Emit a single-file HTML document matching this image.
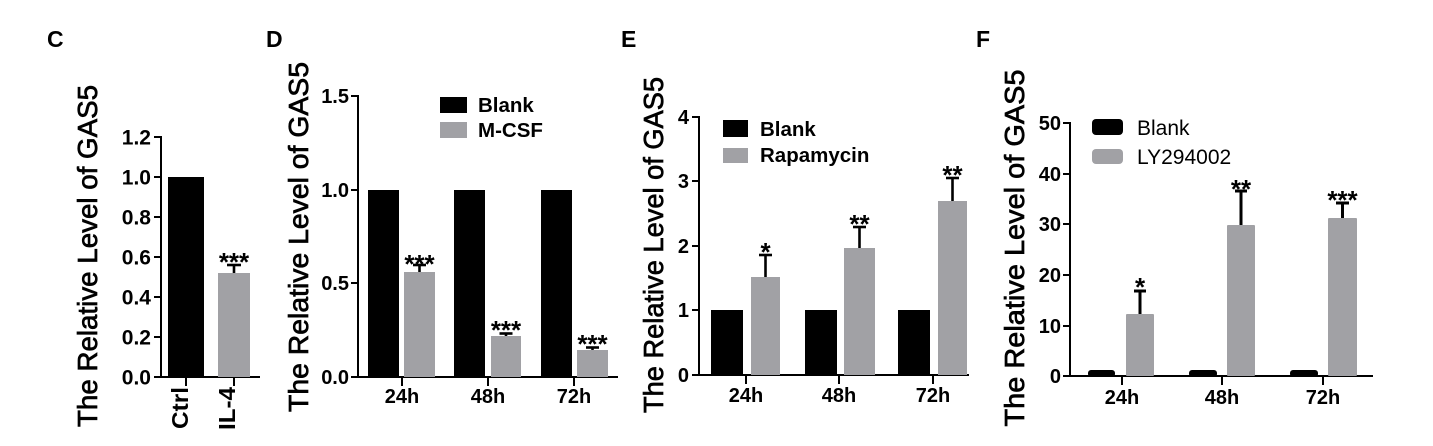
<!DOCTYPE html>
<html><head><meta charset="utf-8"><style>
html,body{margin:0;padding:0;background:#fff;}
svg{display:block;}
text{font-family:"Liberation Sans",Arial,sans-serif;fill:#000;}
.pl{font-size:23px;font-weight:bold;}
.ti{font-size:28px;stroke:#000;stroke-width:0.7px;}
.tk{font-size:20px;font-weight:bold;}
.tkc{font-size:21px;font-weight:bold;}
.xl{font-size:20px;font-weight:bold;}
.st{font-size:26px;font-weight:bold;}
.lg{font-size:20.5px;font-weight:bold;}
.lgr{font-size:21px;}
.ax{stroke:#000;stroke-width:2;fill:none;}
.eb{stroke:#000;stroke-width:2.6;fill:none;}
</style></head><body>
<svg width="1433" height="446" viewBox="0 0 1433 446" xmlns="http://www.w3.org/2000/svg">
<rect width="1433" height="446" fill="#fff"/>

<!-- Panel C -->
<text class="pl" x="47" y="47">C</text>
<text class="ti" transform="translate(97,256) rotate(-90)" text-anchor="middle" textLength="342" lengthAdjust="spacingAndGlyphs">The Relative Level of GAS5</text>
<g class="ax">
<line x1="161" y1="136" x2="161" y2="378"/>
<line x1="160" y1="377" x2="260" y2="377"/>
<line x1="154" y1="137" x2="161" y2="137"/>
<line x1="154" y1="177" x2="161" y2="177"/>
<line x1="154" y1="217" x2="161" y2="217"/>
<line x1="154" y1="257" x2="161" y2="257"/>
<line x1="154" y1="297" x2="161" y2="297"/>
<line x1="154" y1="337" x2="161" y2="337"/>
<line x1="154" y1="377" x2="161" y2="377"/>
<line x1="186" y1="377" x2="186" y2="386"/>
<line x1="234" y1="377" x2="234" y2="386"/>
</g>
<g class="tkc" text-anchor="end">
<text x="151" y="144.5">1.2</text>
<text x="151" y="184.5">1.0</text>
<text x="151" y="224.5">0.8</text>
<text x="151" y="264.5">0.6</text>
<text x="151" y="304.5">0.4</text>
<text x="151" y="344.5">0.2</text>
<text x="151" y="384.5">0.0</text>
</g>
<rect x="168" y="177" width="36" height="200" fill="#000"/>
<rect x="218" y="273" width="32" height="104" fill="#a1a1a5"/>
<g class="eb"><line x1="234" y1="273" x2="234" y2="265"/><line x1="227" y1="265" x2="241" y2="265"/></g>
<text class="st" x="234" y="271" text-anchor="middle">***</text>
<text class="xl" transform="translate(188,387) rotate(-90)" text-anchor="end" textLength="42" lengthAdjust="spacingAndGlyphs" style="font-size:23px">Ctrl</text>
<text class="xl" transform="translate(235,387) rotate(-90)" text-anchor="end" textLength="43" lengthAdjust="spacingAndGlyphs" style="font-size:23px">IL-4</text>

<!-- Panel D -->
<text class="pl" x="266" y="47">D</text>
<text class="ti" transform="translate(308,237) rotate(-90)" text-anchor="middle" textLength="350" lengthAdjust="spacingAndGlyphs">The Relative Level of GAS5</text>
<g class="ax">
<line x1="358" y1="95" x2="358" y2="378"/>
<line x1="357" y1="377" x2="618" y2="377"/>
<line x1="351" y1="96" x2="358" y2="96"/>
<line x1="351" y1="190" x2="358" y2="190"/>
<line x1="351" y1="283" x2="358" y2="283"/>
<line x1="351" y1="377" x2="358" y2="377"/>
<line x1="402" y1="377" x2="402" y2="386"/>
<line x1="488" y1="377" x2="488" y2="386"/>
<line x1="574" y1="377" x2="574" y2="386"/>
</g>
<g class="tk" text-anchor="end">
<text x="349" y="103">1.5</text>
<text x="349" y="197">1.0</text>
<text x="349" y="290">0.5</text>
<text x="349" y="384">0.0</text>
</g>
<rect x="368" y="190" width="31" height="187" fill="#000"/>
<rect x="454" y="190" width="31" height="187" fill="#000"/>
<rect x="541" y="190" width="31" height="187" fill="#000"/>
<rect x="404" y="272" width="31" height="105" fill="#a1a1a5"/>
<rect x="491" y="336" width="30" height="41" fill="#a1a1a5"/>
<rect x="577" y="350" width="31" height="27" fill="#a1a1a5"/>
<g class="eb">
<line x1="419.5" y1="272" x2="419.5" y2="265"/><line x1="413" y1="265" x2="426" y2="265"/>
<line x1="506" y1="336" x2="506" y2="333.5"/><line x1="499.5" y1="333.5" x2="512.5" y2="333.5"/>
<line x1="592.5" y1="350" x2="592.5" y2="347.5"/><line x1="586" y1="347.5" x2="599" y2="347.5"/>
</g>
<g class="st" text-anchor="middle">
<text x="419.5" y="273">***</text>
<text x="506" y="339">***</text>
<text x="592.5" y="353">***</text>
</g>
<g class="xl" text-anchor="middle">
<text x="402" y="403">24h</text>
<text x="488" y="403">48h</text>
<text x="574" y="403">72h</text>
</g>
<rect x="440" y="97" width="27" height="16" fill="#000"/>
<rect x="440" y="122" width="27" height="16" fill="#a1a1a5"/>
<text class="lg" x="478" y="112">Blank</text>
<text class="lg" x="478" y="137">M-CSF</text>

<!-- Panel E -->
<text class="pl" x="621" y="47">E</text>
<text class="ti" transform="translate(663,245) rotate(-90)" text-anchor="middle" textLength="336" lengthAdjust="spacingAndGlyphs">The Relative Level of GAS5</text>
<g class="ax">
<line x1="699" y1="116" x2="699" y2="376"/>
<line x1="698" y1="375" x2="969" y2="375"/>
<line x1="692" y1="117" x2="699" y2="117"/>
<line x1="692" y1="181" x2="699" y2="181"/>
<line x1="692" y1="246" x2="699" y2="246"/>
<line x1="692" y1="310" x2="699" y2="310"/>
<line x1="692" y1="375" x2="699" y2="375"/>
<line x1="746" y1="375" x2="746" y2="384"/>
<line x1="839" y1="375" x2="839" y2="384"/>
<line x1="933" y1="375" x2="933" y2="384"/>
</g>
<g class="tk" text-anchor="end">
<text x="689" y="124">4</text>
<text x="689" y="188">3</text>
<text x="689" y="253">2</text>
<text x="689" y="317">1</text>
<text x="689" y="382">0</text>
</g>
<rect x="711" y="310" width="32" height="65" fill="#000"/>
<rect x="805" y="310" width="32" height="65" fill="#000"/>
<rect x="898" y="310" width="32" height="65" fill="#000"/>
<rect x="751" y="277" width="29" height="98" fill="#a1a1a5"/>
<rect x="844" y="248" width="31" height="127" fill="#a1a1a5"/>
<rect x="938" y="201" width="29" height="174" fill="#a1a1a5"/>
<g class="eb">
<line x1="765.5" y1="277" x2="765.5" y2="255"/><line x1="759" y1="255" x2="772" y2="255"/>
<line x1="859.5" y1="248" x2="859.5" y2="227"/><line x1="853" y1="227" x2="866" y2="227"/>
<line x1="952.5" y1="201" x2="952.5" y2="178"/><line x1="946" y1="178" x2="959" y2="178"/>
</g>
<g class="st" text-anchor="middle">
<text x="765.5" y="261">*</text>
<text x="859.5" y="233">**</text>
<text x="952.5" y="184">**</text>
</g>
<g class="xl" text-anchor="middle">
<text x="746" y="402">24h</text>
<text x="839" y="402">48h</text>
<text x="933" y="402">72h</text>
</g>
<rect x="723" y="120" width="25" height="17" fill="#000"/>
<rect x="723" y="148" width="25" height="15" fill="#a1a1a5"/>
<text class="lg" x="760" y="136">Blank</text>
<text class="lg" x="760" y="162">Rapamycin</text>

<!-- Panel F -->
<text class="pl" x="976" y="47">F</text>
<text class="ti" transform="translate(1024,248) rotate(-90)" text-anchor="middle" textLength="357" lengthAdjust="spacingAndGlyphs">The Relative Level of GAS5</text>
<g class="ax">
<line x1="1070" y1="122" x2="1070" y2="377"/>
<line x1="1069" y1="376" x2="1373" y2="376"/>
<line x1="1063" y1="123" x2="1070" y2="123"/>
<line x1="1063" y1="174" x2="1070" y2="174"/>
<line x1="1063" y1="224" x2="1070" y2="224"/>
<line x1="1063" y1="275" x2="1070" y2="275"/>
<line x1="1063" y1="326" x2="1070" y2="326"/>
<line x1="1063" y1="376" x2="1070" y2="376"/>
<line x1="1122" y1="376" x2="1122" y2="385"/>
<line x1="1222" y1="376" x2="1222" y2="385"/>
<line x1="1323" y1="376" x2="1323" y2="385"/>
</g>
<g class="tk" text-anchor="end">
<text x="1061" y="130">50</text>
<text x="1061" y="181">40</text>
<text x="1061" y="231">30</text>
<text x="1061" y="282">20</text>
<text x="1061" y="333">10</text>
<text x="1061" y="383">0</text>
</g>
<rect x="1088" y="370" width="27" height="7" rx="3" fill="#000"/>
<rect x="1189" y="370" width="28" height="7" rx="3" fill="#000"/>
<rect x="1290" y="370" width="28" height="7" rx="3" fill="#000"/>
<rect x="1126" y="314" width="28" height="62" rx="1" fill="#a1a1a5"/>
<rect x="1227" y="225" width="28" height="151" rx="1" fill="#a1a1a5"/>
<rect x="1328" y="218" width="29" height="158" rx="1" fill="#a1a1a5"/>
<g class="eb" style="stroke-width:3">
<line x1="1140" y1="314" x2="1140" y2="291"/><line x1="1134" y1="291" x2="1146" y2="291"/>
<line x1="1241" y1="225" x2="1241" y2="191"/><line x1="1235" y1="191" x2="1247" y2="191"/>
<line x1="1342.5" y1="218" x2="1342.5" y2="203"/><line x1="1336" y1="203" x2="1349" y2="203"/>
</g>
<g class="st" text-anchor="middle">
<text x="1140" y="296">*</text>
<text x="1241" y="198">**</text>
<text x="1342.5" y="209">***</text>
</g>
<g class="xl" text-anchor="middle">
<text x="1122" y="404">24h</text>
<text x="1222" y="404">48h</text>
<text x="1323" y="404">72h</text>
</g>
<rect x="1092" y="119" width="31" height="16" rx="4" fill="#000"/>
<rect x="1092" y="149" width="31" height="15" rx="4" fill="#a1a1a5"/>
<text class="lgr" x="1137" y="135">Blank</text>
<text class="lgr" x="1137" y="164">LY294002</text>
</svg>
</body></html>
